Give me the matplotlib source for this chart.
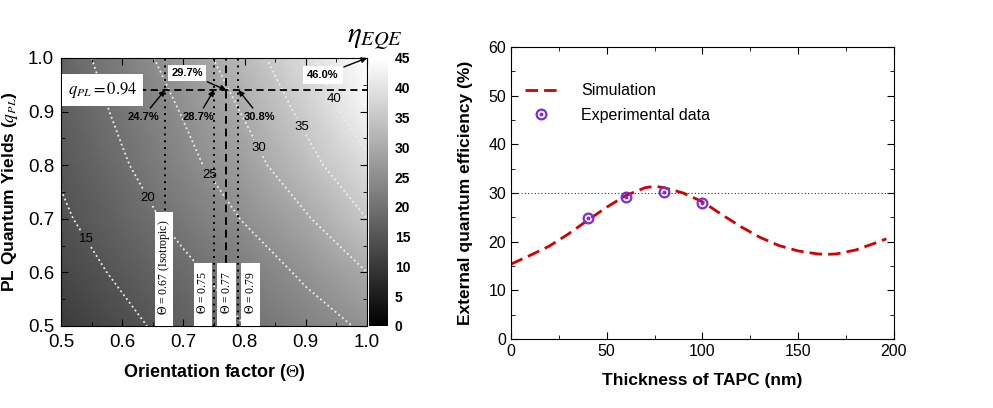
import numpy as np
import matplotlib
matplotlib.use('Agg')
import matplotlib.pyplot as plt
from matplotlib.patches import Rectangle
from matplotlib.ticker import MultipleLocator

# left map: EQE (%)
theta_grid = [0.5, 0.6, 0.7, 0.8, 0.9, 1.0]
qpl_grid = [0.5, 0.6, 0.7, 0.8, 0.9, 1.0]
eqe_grid = [
    [10.5, 13.7, 16.9, 20.0, 22.8, 25.7],
    [12.6, 15.8, 18.9, 22.2, 25.8, 30.0],
    [14.3, 17.8, 21.4, 25.3, 29.5, 35.0],
    [15.6, 19.5, 23.6, 28.0, 33.4, 39.0],
    [16.6, 20.9, 25.3, 30.4, 36.2, 43.0],
    [17.6, 22.4, 27.4, 32.8, 39.0, 46.0],
]
contour_levels = [15, 20, 25, 30, 35, 40]
qpl_marked = 0.94
theta_marked = [0.67, 0.75, 0.77, 0.79]
eqe_marked = ['24.7%', '28.7%', '29.7%', '30.8%']
theta_labels = [r'$\Theta$ = 0.67 (Isotropic)', r'$\Theta$ = 0.75',
                r'$\Theta$ = 0.77', r'$\Theta$ = 0.79']

# right plot: EQE vs TAPC thickness
tapc_sim = [0, 10, 20, 30, 40, 50, 60, 70, 75, 80, 90, 100, 110, 120,
            130, 140, 150, 160, 165, 170, 180, 190, 196]
eqe_sim = [15.4, 17.2, 19.1, 21.6, 24.4, 27.1, 29.5, 31.1, 31.4, 31.1, 30.0,
           28.2, 25.6, 23.1, 20.9, 19.2, 18.1, 17.5, 17.4, 17.5, 18.3, 19.7, 20.6]
tapc_exp = [40, 60, 80, 100]
eqe_exp = [24.8, 29.2, 30.2, 27.9]

plt.rcParams['font.family'] = ['Liberation Sans', 'DejaVu Sans']
plt.rcParams['mathtext.fontset'] = 'stix'

fig = plt.figure(figsize=(9.93, 4.08), dpi=100)
ax1 = fig.add_axes([0.0614, 0.201, 0.3082, 0.657])
cax = fig.add_axes([0.3716, 0.201, 0.0191, 0.657])
ax2 = fig.add_axes([0.5146, 0.169, 0.3857, 0.7157])

# ---- left panel
T, Q = np.meshgrid(theta_grid, qpl_grid)
Z = np.array(eqe_grid)
mesh = ax1.pcolormesh(T, Q, Z, shading='gouraud', cmap='gray', vmin=0, vmax=45)
cs = ax1.contour(T, Q, Z, levels=contour_levels, colors='#eeeeee',
                 linestyles=':', linewidths=1.3)
lab_pos = [(0.538, 0.66), (0.642, 0.739), (0.738, 0.779), (0.822, 0.832),
           (0.893, 0.872), (0.944, 0.922)]
clabs = ax1.clabel(cs, fmt='%d', fontsize=9.5, colors='black', inline=True,
                   inline_spacing=2, manual=lab_pos)
for t in clabs:
    t.set_rotation(0)

styles = [(0, (1, 2.5)), (0, (1, 2.5)), (0, (4, 2.5)), (0, (1, 2.5))]
for th, st in zip(theta_marked, styles):
    ax1.axvline(th, color='k', ls=st, lw=1.4)
ax1.hlines(qpl_marked, 0.628, 1.0, color='k', ls=(0, (4, 2.5)), lw=1.3)

boxes = [(0.654, 0.683, 0.713), (0.717, 0.747, 0.617),
         (0.755, 0.786, 0.617), (0.794, 0.825, 0.617)]
centers = [(0.669, 0.61), (0.732, 0.562), (0.770, 0.562), (0.810, 0.562)]
for (x0, x1, top), (cx, cy), txt in zip(boxes, centers, theta_labels):
    ax1.add_patch(Rectangle((x0, 0.5), x1 - x0, top - 0.5, fc='white', ec='none', zorder=3))
    ax1.text(cx, cy, txt, rotation=90, ha='center', va='center', fontsize=8.5,
             family='Liberation Serif', zorder=4)

ax1.text(0.568, 0.94, r'$q_{PL}=0.94$', ha='center', va='center', fontsize=12,
         bbox=dict(boxstyle='square,pad=0.35', fc='white', ec='none'), zorder=4)

arr = dict(arrowstyle='-|>', color='k', lw=1, mutation_scale=8, shrinkA=1, shrinkB=0)
ann_txt = [(0.634, 0.89), (0.724, 0.89), (0.706, 0.972), (0.825, 0.89)]
for th, val, xy in zip(theta_marked, eqe_marked, ann_txt):
    box = dict(boxstyle='square,pad=0.3', fc='white', ec='none') if val == '29.7%' else None
    ax1.annotate(val, xy=(th, qpl_marked), xytext=xy, ha='center', va='center',
                 fontsize=8, fontweight='bold', arrowprops=arr, bbox=box, zorder=5)
ax1.annotate('46.0%', xy=(1.0, 1.0), xytext=(0.928, 0.968), ha='center', va='center',
             fontsize=8, fontweight='bold', arrowprops=arr,
             bbox=dict(boxstyle='square,pad=0.35', fc='white', ec='none'), zorder=5)

ax1.set_xlim(0.5, 1.0)
ax1.set_ylim(0.5, 1.0)
ax1.xaxis.set_major_locator(MultipleLocator(0.1))
ax1.xaxis.set_minor_locator(MultipleLocator(0.05))
ax1.yaxis.set_major_locator(MultipleLocator(0.1))
ax1.yaxis.set_minor_locator(MultipleLocator(0.05))
ax1.tick_params(direction='in', which='both', top=True, right=True, labelsize=13.5)
ax1.tick_params(which='major', length=5)
ax1.tick_params(which='minor', length=3)
ax1.tick_params(axis='x', pad=6)
ax1.tick_params(axis='y', pad=5)
ax1.set_xlabel(r'Orientation factor ($\Theta$)', fontsize=13, fontweight='bold')
ax1.set_ylabel(r'PL Quantum Yields ($q_{PL}$)', fontsize=12.5, fontweight='bold')
ax1.xaxis.set_label_coords(0.5, -0.135)
ax1.yaxis.set_label_coords(-0.135, 0.5)

cb = fig.colorbar(mesh, cax=cax, ticks=range(0, 46, 5))
cb.outline.set_visible(False)
cax.tick_params(length=0, pad=5, labelsize=10)
for t in cax.get_yticklabels():
    t.set_fontweight('bold')
fig.text(0.378, 0.905, r'$\eta_{EQE}$', fontsize=21, ha='center', va='center')

# ---- right panel
sim, = ax2.plot(tapc_sim, eqe_sim, color='#d40000', lw=2, dashes=(4.5, 2.2))
ring, = ax2.plot(tapc_exp, eqe_exp, ls='none', marker='o', mfc='none',
                 mec='#7a2fd8', mew=1.6, ms=7)
dot, = ax2.plot(tapc_exp, eqe_exp, ls='none', marker='o', color='#7a2fd8', ms=1.8)
ax2.axhline(30, color='#333333', ls=(0, (1, 2)), lw=0.8)

ax2.set_xlim(0, 200)
ax2.set_ylim(0, 60)
ax2.xaxis.set_major_locator(MultipleLocator(50))
ax2.xaxis.set_minor_locator(MultipleLocator(25))
ax2.yaxis.set_major_locator(MultipleLocator(10))
ax2.yaxis.set_minor_locator(MultipleLocator(5))
ax2.tick_params(direction='in', which='both', top=True, right=True, labelsize=11.5)
ax2.tick_params(which='major', length=5)
ax2.tick_params(which='minor', length=3)
ax2.set_xlabel('Thickness of TAPC (nm)', fontsize=12.5, fontweight='bold')
ax2.set_ylabel('External quantum efficiency (%)', fontsize=12.5, fontweight='bold')
ax2.xaxis.set_label_coords(0.5, -0.115)
ax2.yaxis.set_label_coords(-0.1, 0.5)
ax2.legend([sim, (ring, dot)], ['Simulation', 'Experimental data'], loc='upper left',
           bbox_to_anchor=(0.0, 0.925), frameon=False, fontsize=11.5,
           handlelength=2.0, handletextpad=1.5, labelspacing=0.6)

fig.savefig('out.png', dpi=100)
